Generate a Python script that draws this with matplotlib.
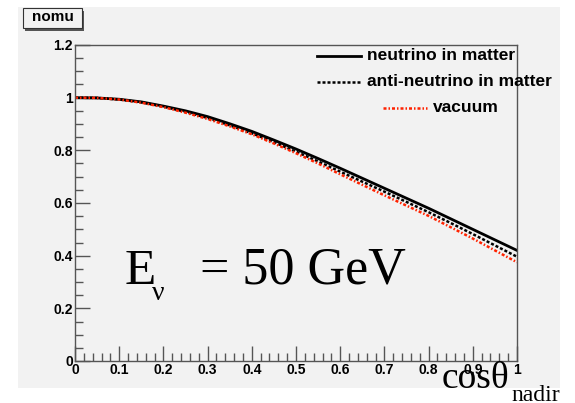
import numpy as np
import matplotlib.pyplot as plt
from matplotlib.patches import Rectangle
from matplotlib.lines import Line2D
from matplotlib.ticker import MultipleLocator

# cos(theta_nadir) sample points
cos_nadir = [0.0, 0.05, 0.1, 0.15, 0.2, 0.25, 0.3, 0.35, 0.4, 0.45, 0.5,
             0.55, 0.6, 0.65, 0.7, 0.75, 0.8, 0.85, 0.9, 0.95, 1.0]
nu_matter = [1.0, 0.999, 0.994, 0.984, 0.968, 0.950, 0.928, 0.901, 0.872, 0.839, 0.805,
             0.769, 0.732, 0.694, 0.656, 0.618, 0.580, 0.540, 0.500, 0.460, 0.420]
antinu_matter = [1.0, 0.999, 0.993, 0.982, 0.966, 0.946, 0.923, 0.895, 0.865, 0.831, 0.795,
                 0.758, 0.719, 0.681, 0.643, 0.604, 0.565, 0.524, 0.482, 0.439, 0.396]
vacuum = [1.0, 0.999, 0.993, 0.981, 0.964, 0.943, 0.919, 0.891, 0.861, 0.826, 0.789,
          0.750, 0.709, 0.669, 0.629, 0.590, 0.551, 0.508, 0.465, 0.420, 0.375]

labels = ["neutrino in matter", "anti-neutrino in matter", "vacuum"]
title = "nomu"

bg = '#f2f2f2'
frame_col = '#555555'
red = '#ff2200'
W, H = 575, 403
serif = 'Liberation Serif'

fig = plt.figure(figsize=(5.75, 4.03), dpi=100)
fig.patch.set_facecolor('white')

# ROOT canvas pad
fig.patches.append(Rectangle((18 / W, 1 - 388 / H), 542 / W, 381 / H,
                             transform=fig.transFigure, facecolor=bg,
                             edgecolor='none', zorder=-5))

ax = fig.add_axes([75 / W, 1 - 361 / H, 442 / W, 316 / H])
ax.set_zorder(1)
ax.set_facecolor(bg)
ax.plot(cos_nadir, nu_matter, color='black', lw=2.0)
ax.plot(cos_nadir, antinu_matter, color='black', lw=1.8, ls=(0, (1.2, 0.8)))
ax.plot(cos_nadir, vacuum, color=red, lw=1.8, ls=(0, (1.2, 0.8, 0.6, 0.8)))

ax.set_xlim(0, 1)
ax.set_ylim(0, 1.2)
ax.xaxis.set_major_locator(MultipleLocator(0.1))
ax.xaxis.set_minor_locator(MultipleLocator(0.02))
ax.yaxis.set_major_locator(MultipleLocator(0.2))
ax.yaxis.set_minor_locator(MultipleLocator(0.05))
ax.xaxis.set_major_formatter(plt.FuncFormatter(lambda v, p: '%g' % round(v, 2)))
ax.yaxis.set_major_formatter(plt.FuncFormatter(lambda v, p: '%g' % round(v, 2)))
ax.tick_params(which='both', direction='in', color=frame_col, width=1,
               top=False, right=False)
ax.tick_params(which='major', length=10.5, pad=1.5)
ax.tick_params(which='minor', length=5.5)
for lab in ax.get_xticklabels() + ax.get_yticklabels():
    lab.set_fontfamily('Liberation Sans')
    lab.set_fontweight('bold')
    lab.set_fontsize(10)
for s in ax.spines.values():
    s.set_color(frame_col)
    s.set_linewidth(1)

# legend drawn ROOT-style
leg_rows = [(56, 317, 361, 367), (82, 317, 361, 367), (108, 383, 427, 433)]
leg_styles = [dict(color='black', lw=2.0),
              dict(color='black', lw=1.8, ls=(0, (1.2, 0.8))),
              dict(color=red, lw=1.8, ls=(0, (1.2, 0.8, 0.6, 0.8)))]
for (y, x0, x1, xt), lab, st in zip(leg_rows, labels, leg_styles):
    fig.add_artist(Line2D([x0 / W, x1 / W], [1 - y / H, 1 - y / H],
                          transform=fig.transFigure, zorder=3, **st))
    fig.text(xt / W, 1 - y / H, lab, family='Liberation Sans', weight='bold',
             fontsize=12.5, va='center', ha='left', zorder=3)

# title box
fig.patches.append(Rectangle((25 / W, 1 - 31 / H), 59 / W, 20 / H,
                             transform=fig.transFigure, facecolor='#555555',
                             edgecolor='none', zorder=2))
fig.patches.append(Rectangle((23 / W, 1 - 28 / H), 59 / W, 20 / H,
                             transform=fig.transFigure, facecolor=bg,
                             edgecolor='#333333', lw=0.8, zorder=2.5))
fig.text(52.5 / W, 1 - 17 / H, title, family='Liberation Sans', weight='bold',
         fontsize=11, ha='center', va='center', zorder=3)

# energy annotation
fig.text(125 / W, 1 - 284 / H, 'E', family=serif, fontsize=37,
         ha='left', va='baseline', zorder=3)
fig.text(152 / W, 1 - 300 / H, '\u03bd', family=serif, fontsize=20,
         ha='left', va='baseline', zorder=3)
fig.text(200 / W, 1 - 284 / H, '= 50 GeV', family=serif, fontsize=37.5,
         ha='left', va='baseline', zorder=3)

# axis title
fig.text(442 / W, 1 - 388 / H, 'cos\u03b8', family=serif, fontsize=27,
         ha='left', va='baseline', zorder=3)
fig.text(511 / W, 1 - 401 / H, 'nadir', family=serif, fontsize=17,
         ha='left', va='baseline', zorder=3)

fig.savefig('out.png', dpi=100)
